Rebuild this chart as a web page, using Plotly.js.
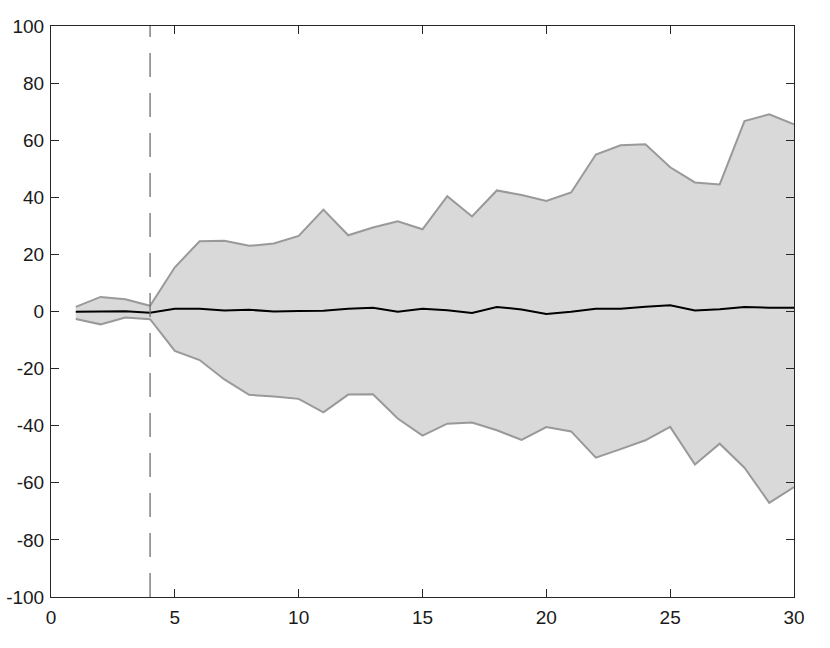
<!DOCTYPE html>
<html>
<head>
<meta charset="utf-8">
<script src="https://cdn.plot.ly/plotly-3.0.1.min.js"></script>
<style>html,body{margin:0;padding:0;background:#fff;}#chart{width:830px;height:648px;}</style>
</head>
<body>
<div id="chart"></div>
<script>
const steps = [1,2,3,4,5,6,7,8,9,10,11,12,13,14,15,16,17,18,19,20,21,22,23,24,25,26,27,28,29,30];
const upper = [1.6,5.1,4.3,2.0,15.5,24.6,24.8,23.0,23.8,26.5,35.7,26.7,29.4,31.6,28.8,40.4,33.3,42.4,40.8,38.7,41.7,55.0,58.2,58.6,50.5,45.2,44.5,66.7,69.1,65.6];
const lower = [-2.6,-4.5,-2.1,-2.7,-13.8,-17.0,-23.8,-29.2,-29.8,-30.6,-35.3,-29.1,-29.0,-37.5,-43.5,-39.3,-38.9,-41.6,-45.0,-40.5,-42.0,-51.2,-48.2,-45.1,-40.4,-53.6,-46.3,-54.7,-67.0,-61.5];
const mean = [-0.1,0.0,0.1,-0.4,1.0,1.0,0.35,0.6,0.0,0.2,0.3,1.0,1.3,-0.1,1.0,0.45,-0.5,1.6,0.7,-0.9,-0.1,1.0,1.0,1.7,2.2,0.35,0.8,1.6,1.3,1.3];
const markerX = [4,4];
const markerY = [-100,100];

const traces = [
  {x: steps, y: lower, type:'scatter', mode:'lines', line:{color:'#999999', width:2}, hoverinfo:'skip'},
  {x: steps, y: upper, type:'scatter', mode:'lines', fill:'tonexty', fillcolor:'#d9d9d9', line:{color:'#999999', width:2}, hoverinfo:'skip'},
  {x: steps, y: mean, type:'scatter', mode:'lines', line:{color:'#000000', width:2}},
  {x: markerX, y: markerY, type:'scatter', mode:'lines', line:{color:'#707070', width:1.3, dash:'24px,16px'}}
];

const axisCommon = {
  showgrid:false, zeroline:false, showline:true, mirror:'ticks',
  linecolor:'#262626', linewidth:1, ticks:'inside', ticklen:8, tickcolor:'#262626', tickwidth:1,
  tickfont:{family:'Liberation Sans, Arial, sans-serif', size:19, color:'#1a1a1a'}
};

const layout = {
  width:830, height:648,
  margin:{l:51, r:36, t:26, b:51},
  showlegend:false,
  paper_bgcolor:'#ffffff', plot_bgcolor:'#ffffff',
  xaxis: Object.assign({}, axisCommon, {range:[0,30], ticklabelstandoff:3, tickvals:[0,5,10,15,20,25,30], ticktext:['0','5','10','15','20','25','30']}),
  yaxis: Object.assign({}, axisCommon, {range:[-100,100], ticklabelstandoff:2, tickvals:[-100,-80,-60,-40,-20,0,20,40,60,80,100], ticktext:['-100','-80','-60','-40','-20','0','20','40','60','80','100']})
};

Plotly.newPlot('chart', traces, layout, {displayModeBar:false, staticPlot:true});
</script>
</body>
</html>
